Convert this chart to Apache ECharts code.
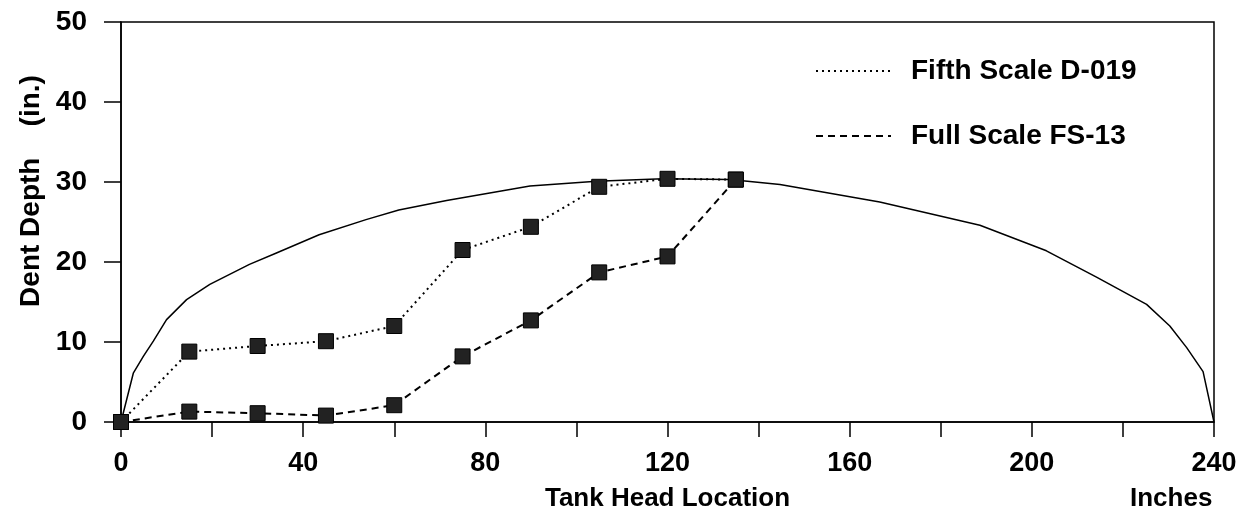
<!DOCTYPE html>
<html>
<head>
<meta charset="utf-8">
<script src="https://cdn.jsdelivr.net/npm/echarts@6/dist/echarts.min.js"></script>
<style>
html,body{margin:0;padding:0;background:#fff;}
#chart{width:1243px;height:512px;}
</style>
</head>
<body>
<div id="chart"></div>
<script>
// Tank head outline (solid curve)
var headX = [0, 2.7, 4.9, 7.1, 10, 14.4, 19.5, 28.2, 34, 43.5, 53.8, 61, 71.5, 89.8, 104.4, 119, 133.7, 144.7, 166.6, 188.6, 203.2, 214.2, 225.2, 230.3, 234, 237.6, 240];
var headY = [0, 6.1, 8.2, 10.1, 12.8, 15.3, 17.2, 19.7, 21.1, 23.4, 25.3, 26.5, 27.7, 29.5, 30.1, 30.4, 30.3, 29.7, 27.5, 24.6, 21.4, 18.1, 14.7, 12.0, 9.3, 6.3, 0];

// Measurement locations (inches)
var locations = [0, 15, 30, 45, 60, 75, 90, 105, 120, 135];
var fifthScale = [0, 8.8, 9.5, 10.1, 12.0, 21.5, 24.4, 29.4, 30.4, 30.3];
var fullScale  = [0, 1.3, 1.1, 0.8, 2.1, 8.2, 12.7, 18.7, 20.7, 30.3];

var seriesNames = ['Fifth Scale D-019', 'Full Scale FS-13'];
var xTickLabels = [0, 40, 80, 120, 160, 200, 240];

function pairs(xs, ys) { return xs.map(function (x, i) { return [x, ys[i]]; }); }

var chart = echarts.init(document.getElementById('chart'), null, {renderer: 'canvas'});
var font = '"Liberation Sans", Arial, sans-serif';
chart.setOption({
  backgroundColor: '#fff',
  animation: false,
  grid: {left: 121, right: 29, top: 22, bottom: 90, containLabel: false, outerBoundsMode: 'none',
         show: true, borderColor: '#000', borderWidth: 1.5, backgroundColor: 'transparent'},
  legend: {
    orient: 'vertical', left: 810, top: 52,
    itemWidth: 75, itemHeight: 20, itemGap: 37,
    data: seriesNames,
    itemStyle: {opacity: 0},
    textStyle: {fontFamily: font, fontWeight: 'bold', fontSize: 28, color: '#000', padding: [0, 0, 0, 15]}
  },
  xAxis: {
    type: 'value', min: 0, max: 240, interval: 20,
    name: 'Tank Head Location', nameLocation: 'middle', nameGap: 64,
    nameTextStyle: {fontFamily: font, fontWeight: 'bold', fontSize: 26, color: '#000'},
    axisLine: {show: true, onZero: false, lineStyle: {color: '#000', width: 1.5}},
    axisTick: {show: true, length: 15, lineStyle: {color: '#000', width: 1.5}},
    splitLine: {show: false},
    axisLabel: {
      fontFamily: font, fontWeight: 'bold', fontSize: 27, color: '#000', margin: 28,
      formatter: function (v) { return xTickLabels.indexOf(v) >= 0 ? String(v) : ''; }
    }
  },
  yAxis: {
    type: 'value', min: 0, max: 50, interval: 10,
    name: 'Dent Depth    (in.)', nameLocation: 'middle', nameGap: 76,
    nameTextStyle: {fontFamily: font, fontWeight: 'bold', fontSize: 28, color: '#000', padding: [0, 0, 0, 62]},
    axisLine: {show: true, lineStyle: {color: '#000', width: 1.5}},
    axisTick: {show: true, length: 17, lineStyle: {color: '#000', width: 1.5}},
    splitLine: {show: false},
    axisLabel: {fontFamily: font, fontWeight: 'bold', fontSize: 28, color: '#000', margin: 34}
  },
  graphic: [{
    type: 'text', left: 1130, top: 486,
    style: {text: 'Inches', fontFamily: font, fontWeight: 'bold', fontSize: 26, fill: '#000'}
  }],
  series: [
    {
      name: 'Tank Head', type: 'line', data: pairs(headX, headY),
      showSymbol: false, symbol: 'none', smooth: false,
      lineStyle: {color: '#000', width: 1.5}, z: 1
    },
    {
      name: seriesNames[0], type: 'line', data: pairs(locations, fifthScale),
      symbol: 'rect', symbolSize: 15,
      itemStyle: {color: '#222', borderColor: '#000', borderWidth: 1},
      lineStyle: {color: '#000', width: 2, type: [2, 4]}, z: 3
    },
    {
      name: seriesNames[1], type: 'line', data: pairs(locations, fullScale),
      symbol: 'rect', symbolSize: 15,
      itemStyle: {color: '#222', borderColor: '#000', borderWidth: 1},
      lineStyle: {color: '#000', width: 2, type: [7, 5]}, z: 3
    }
  ]
});
</script>
</body>
</html>
